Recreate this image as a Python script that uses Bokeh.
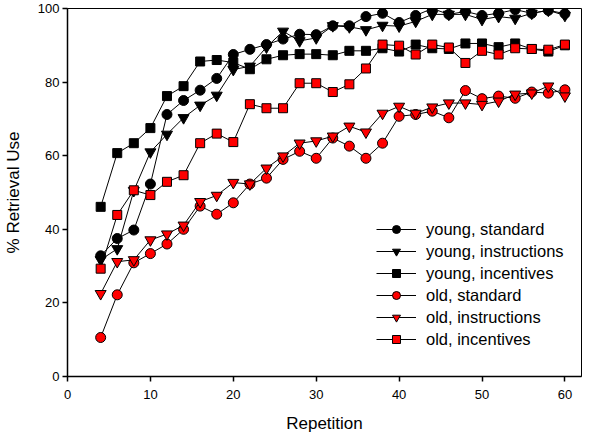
from bokeh.plotting import figure
from bokeh.models import Range1d, Legend, LegendItem, FixedTicker
from bokeh.embed import file_html
from bokeh.resources import INLINE

rep = [4, 6, 8, 10, 12, 14, 16, 18, 20, 22, 24, 26, 28, 30, 32, 34, 36, 38,
       40, 42, 44, 46, 48, 50, 52, 54, 56, 58, 60]

young_standard = [32.8, 37.5, 39.8, 52.3, 71.2, 75.0, 77.8, 81.0, 87.5, 88.9, 90.2, 91.7, 93.0, 92.9,
                  95.3, 95.3, 97.8, 98.7, 96.2, 98.1, 100.0, 98.4, 99.2, 98.1, 98.7, 99.7, 98.7, 99.5, 98.6]
young_instructions = [31.7, 34.7, 50.5, 61.0, 65.8, 70.3, 73.7, 76.4, 83.4, 84.3, 89.5, 93.8, 91.2, 92.0,
                      95.3, 95.0, 94.2, 95.4, 95.2, 96.5, 98.4, 98.4, 98.4, 97.0, 97.8, 97.3, 98.7, 99.5, 98.1]
young_incentives = [46.1, 60.7, 63.4, 67.5, 76.2, 78.9, 85.6, 86.0, 85.3, 83.5, 86.2, 87.3, 87.6, 87.6,
                    87.3, 88.5, 88.5, 89.2, 88.3, 90.2, 89.2, 89.0, 90.5, 90.5, 89.5, 90.5, 89.0, 88.3, 90.0]
old_standard = [10.6, 22.2, 30.9, 33.4, 36.0, 40.0, 46.3, 44.1, 47.2, 52.3, 53.9, 59.0, 61.2, 59.3,
                64.8, 62.6, 59.3, 63.4, 70.7, 71.2, 72.1, 70.3, 77.7, 75.5, 76.2, 75.6, 77.3, 77.0, 77.9]
old_instructions = [22.5, 31.2, 31.7, 37.1, 38.7, 41.1, 47.5, 49.2, 52.7, 52.3, 56.6, 59.9, 63.4, 64.0,
                    65.3, 68.0, 66.4, 71.5, 73.4, 71.5, 73.2, 74.3, 74.3, 73.9, 74.8, 76.7, 77.0, 78.9, 76.2]
old_incentives = [29.3, 43.9, 50.6, 49.3, 52.9, 54.7, 63.4, 66.0, 63.7, 74.0, 72.9, 72.9, 79.7, 79.7,
                  77.3, 79.4, 83.7, 90.2, 89.9, 87.5, 90.2, 89.4, 85.2, 88.5, 87.5, 89.2, 89.0, 88.8, 90.2]

series = [
    ("young, standard", young_standard, "circle", "black", 10),
    ("young, instructions", young_instructions, "inverted_triangle", "black", 11),
    ("young, incentives", young_incentives, "square", "black", 9),
    ("old, standard", old_standard, "circle", "red", 10),
    ("old, instructions", old_instructions, "inverted_triangle", "red", 11),
    ("old, incentives", old_incentives, "square", "red", 9),
]

FONT = "Liberation Sans"

p = figure(width=584, height=436, output_backend="svg", toolbar_location=None,
           x_range=Range1d(0, 62), y_range=Range1d(0, 100),
           min_border_left=59, min_border_right=3, min_border_top=8, min_border_bottom=60)

p.xgrid.visible = False
p.ygrid.visible = False
p.outline_line_color = "black"
p.outline_line_width = 1
p.background_fill_color = "white"
p.border_fill_color = "white"

for ax in (p.xaxis[0], p.yaxis[0]):
    ax.axis_line_width = 1.5
    ax.axis_line_color = "black"
    ax.major_tick_in = 0
    ax.major_tick_out = 5
    ax.major_tick_line_width = 1.5
    ax.minor_tick_line_color = None
    ax.major_label_text_font = FONT
    ax.major_label_text_font_size = "13px"
    ax.major_label_text_color = "black"
    ax.axis_label_text_font = FONT
    ax.axis_label_text_font_size = "17px"
    ax.axis_label_text_font_style = "normal"
    ax.axis_label_text_color = "black"

p.xaxis.ticker = FixedTicker(ticks=[0, 10, 20, 30, 40, 50, 60])
p.yaxis.ticker = FixedTicker(ticks=[0, 20, 40, 60, 80, 100])
p.xaxis.axis_label = "Repetition"
p.yaxis.axis_label = "% Retrieval Use"
p.xaxis.major_label_standoff = 8
p.xaxis.axis_label_standoff = 12
p.yaxis.major_label_standoff = 3
p.yaxis.axis_label_standoff = 12

items = []
for name, vals, marker, color, size in series:
    ln = p.line(rep, vals, line_color="black", line_width=1)
    sc = p.scatter(rep, vals, marker=marker, size=size, fill_color=color,
                   line_color="black", line_width=1)
    items.append(LegendItem(label=name, renderers=[ln, sc]))

legend = Legend(items=items, location=(309, 27), padding=0, margin=0, spacing=2,
                glyph_width=40, glyph_height=20, label_height=20, label_standoff=10,
                label_text_font=FONT, label_text_font_size="16.5px", label_text_color="black",
                border_line_alpha=0, background_fill_alpha=0)
p.add_layout(legend)

open("out.html", "w").write(file_html(p, INLINE))
